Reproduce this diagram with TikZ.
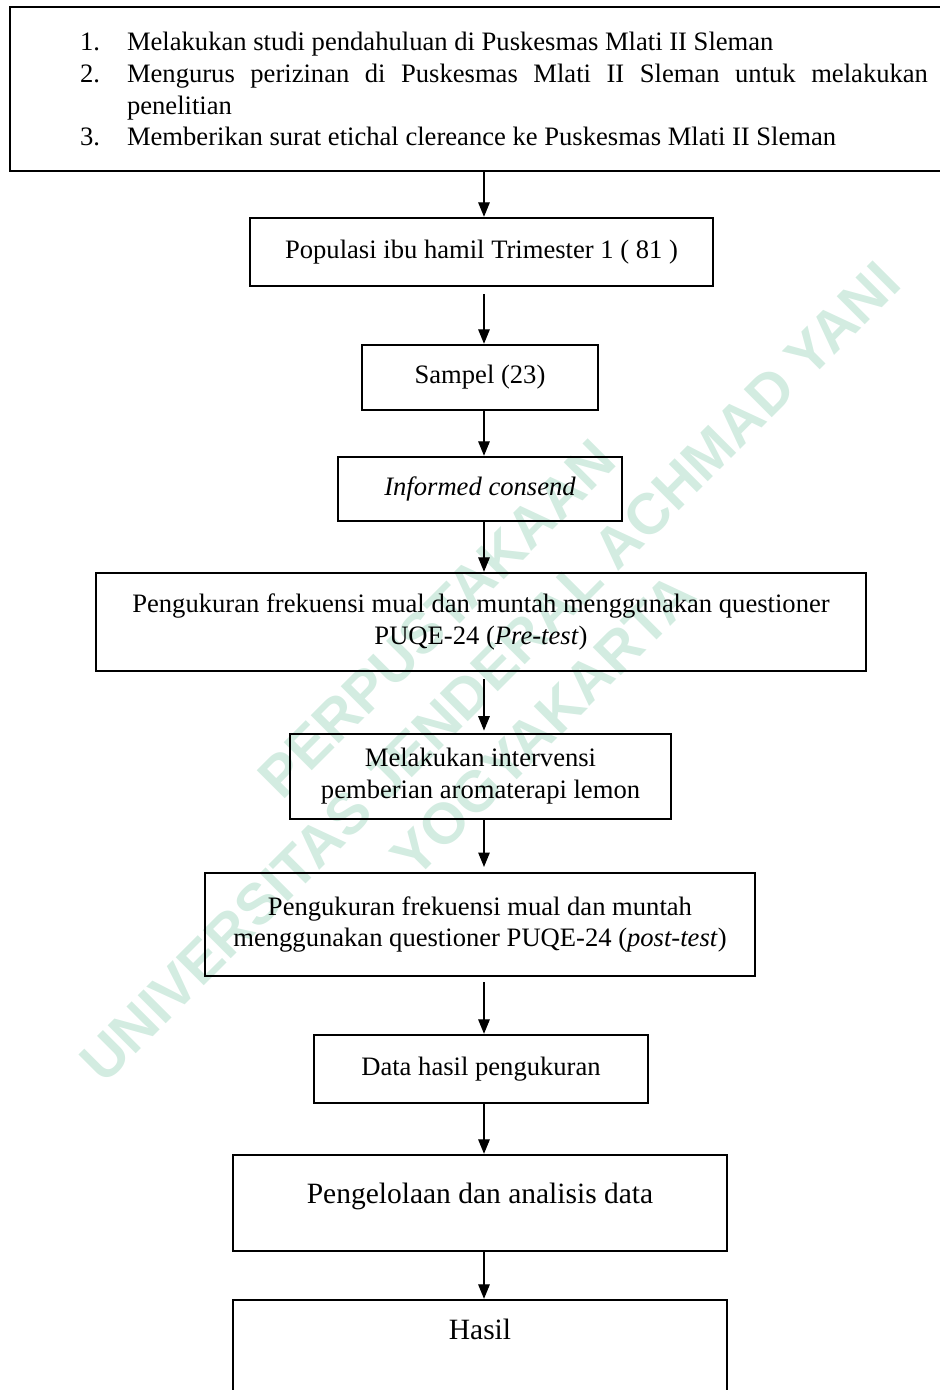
\documentclass[tikz,border=0pt]{standalone}
\usepackage{fontspec}
\setmainfont{Liberation Serif}
\newfontfamily\wmfont{Liberation Sans}
\usetikzlibrary{positioning,arrows.meta}
\definecolor{wmgreen}{RGB}{211,236,225}
\def\u{0.4511pt}
\newcommand\itm[1]{\par\noindent\hangindent=21.2pt\hangafter=1\makebox[21.2pt][l]{#1}}

\begin{document}
\begin{tikzpicture}[x=\u, y=-\u,
  box/.style={draw, line width=1.1pt, inner sep=0pt, font=\fontsize{12}{14.4}\selectfont},
  arr/.style={line width=0.55pt, -{Triangle[length=6.5pt, width=5.2pt]}},
  wm/.style={text=wmgreen, font=\wmfont\bfseries\fontsize{26}{34}\selectfont, align=center, rotate=45}]
\useasboundingbox (0,0) rectangle (939,1390);

% watermark
\node[wm] (wm) at (490,672) {PERPUSTAKAAN\\UNIVERSITAS JENDERAL ACHMAD YANI\\YOGYAKARTA};

\def\ax{484}
\coordinate (ax) at (\ax,0);

\node[box, minimum width=988*\u, minimum height=164*\u] (intro) at (504,89) {\parbox{382.5pt}{%
\hyphenpenalty=10000\exhyphenpenalty=10000
\itm{1.}Melakukan studi pendahuluan di Puskesmas Mlati II Sleman
\itm{2.}Mengurus perizinan di Puskesmas Mlati II Sleman untuk melakukan penelitian
\itm{3.}Memberikan surat etichal clereance ke Puskesmas Mlati II Sleman}};

\node[box, minimum width=463*\u, minimum height=68*\u] (pop) at (481.5,252) {Populasi ibu hamil Trimester 1 ( 81 )};
\node[box, minimum width=236*\u, minimum height=65*\u] (samp) at (480,377.5) {Sampel (23)};
\node[box, minimum width=284*\u, minimum height=64*\u] (ic) at (480,489) {\itshape Informed consend};
\node[box, align=center, minimum width=770*\u, minimum height=98*\u] (pre) at (481,622)
  {Pengukuran frekuensi mual dan muntah menggunakan questioner\\PUQE-24 (\textit{Pre-test})};
\node[box, align=center, minimum width=381*\u, minimum height=85*\u] (iv) at (480.5,776.5)
  {Melakukan intervensi\\pemberian aromaterapi lemon};
\node[box, align=center, minimum width=550*\u, minimum height=103*\u] (post) at (480,924.5)
  {Pengukuran frekuensi mual dan muntah\\menggunakan questioner PUQE-24 (\textit{post-test})};
\node[box, minimum width=334*\u, minimum height=68*\u] (data) at (481,1069) {Data hasil pengukuran};
\node[box, font=\fontsize{13.3}{16}\selectfont, text height=9pt, text depth=9pt,
  minimum width=494*\u, minimum height=96*\u] (olah) at (480,1203) {Pengelolaan dan analisis data};
\node[box, font=\fontsize{13.3}{16}\selectfont, text height=9pt, text depth=31.6pt,
  minimum width=494*\u, minimum height=130*\u] (hasil) at (480,1365) {Hasil};

\draw[arr] (intro.south -| ax) -- (pop.north -| ax);
\draw[arr, shorten <=3.2pt] (pop.south -| ax) -- (samp.north -| ax);
\draw[arr] (samp.south -| ax) -- (ic.north -| ax);
\draw[arr] (ic.south -| ax) -- (pre.north -| ax);
\draw[arr, shorten <=3.2pt, shorten >=1pt] (pre.south -| ax) -- (iv.north -| ax);
\draw[arr, shorten >=2.2pt] (iv.south -| ax) -- (post.north -| ax);
\draw[arr, shorten <=2.2pt] (post.south -| ax) -- (data.north -| ax);
\draw[arr] (data.south -| ax) -- (olah.north -| ax);
\draw[arr] (olah.south -| ax) -- (hasil.north -| ax);
\end{tikzpicture}
\end{document}
